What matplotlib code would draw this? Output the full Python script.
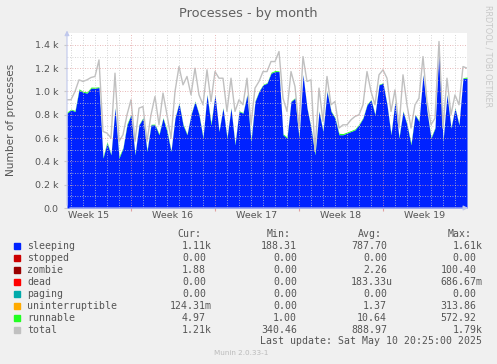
import numpy as np
import matplotlib.pyplot as plt

# 8-hour samples, one month (101 points)
sleeping = [814, 843, 829, 1014, 994, 986, 1029, 1029, 1034, 429,
            557, 457, 857, 429, 514, 714, 800, 457, 714, 771,
            486, 714, 714, 629, 771, 657, 486, 771, 900, 714,
            629, 800, 914, 800, 600, 971, 714, 971, 657, 857,
            600, 857, 543, 829, 814, 971, 571, 914, 1000, 1057,
            1071, 1157, 1171, 1171, 629, 600, 914, 943, 600, 1143,
            857, 686, 457, 829, 657, 1000, 829, 771, 629, 629,
            643, 657, 671, 714, 771, 886, 929, 800, 1057, 1071,
            886, 629, 914, 600, 829, 714, 543, 800, 743, 1143,
            829, 600, 686, 1371, 571, 971, 686, 857, 714, 1114,
            1114]
runnable = [10, 6, 8, 9, 8, 10, 9, 8, 6, 10,
            12, 6, 5, 14, 6, 10, 5, 8, 5, 6,
            10, 5, 6, 8, 5, 12, 6, 5, 4, 8,
            6, 5, 5, 6, 9, 5, 14, 4, 6, 5,
            8, 5, 10, 6, 5, 5, 16, 6, 5, 5,
            5, 8, 9, 6, 8, 10, 5, 5, 12, 4,
            5, 6, 14, 5, 8, 5, 6, 6, 12, 10,
            9, 8, 8, 7, 6, 5, 5, 6, 5, 4,
            5, 8, 5, 10, 5, 6, 12, 5, 6, 4,
            5, 8, 6, 3, 10, 5, 6, 5, 6, 5,
            10]
total = [929, 929, 1000, 1100, 1086, 1100, 1120, 1129, 1271, 657,
         643, 600, 1157, 571, 629, 800, 929, 571, 857, 871,
         571, 800, 957, 714, 986, 800, 600, 1000, 1214, 1057,
         1129, 971, 1200, 971, 886, 1186, 914, 1171, 1114, 1114,
         829, 1114, 829, 929, 886, 1114, 714, 1029, 1086, 1171,
         1171, 1257, 1257, 1343, 943, 829, 1171, 1043, 686, 1300,
         1086, 1100, 486, 1029, 743, 1129, 886, 914, 686, 714,
         714, 757, 786, 800, 886, 1171, 1000, 886, 1143, 1186,
         1114, 829, 1014, 686, 1143, 886, 686, 886, 943, 1300,
         914, 714, 771, 1429, 686, 1114, 800, 971, 886, 1214,
         1200]

week_labels = ["Week 15", "Week 16", "Week 17", "Week 18", "Week 19"]
week_starts = [5.333, 12.333, 19.333, 26.333]

legend_names = ["sleeping", "stopped", "zombie", "dead", "paging",
                "uninterruptible", "runnable", "total"]
legend_colors = ["#0022ff", "#cc0000", "#990000", "#ff0000", "#00aaaa",
                 "#ffaa00", "#22ff22", "#c0c0c0"]
cur_vals = ["1.11k", "0.00", "1.88", "0.00", "0.00", "124.31m", "4.97", "1.21k"]
min_vals = ["188.31", "0.00", "0.00", "0.00", "0.00", "0.00", "1.00", "340.46"]
avg_vals = ["787.70", "0.00", "2.26", "183.33u", "0.00", "1.37", "10.64", "888.97"]
max_vals = ["1.61k", "0.00", "100.40", "686.67m", "0.00", "313.86", "572.92", "1.79k"]

W, H = 497, 364
txt = "#555555"

fig = plt.figure(figsize=(W / 100, H / 100), dpi=100, facecolor="#f0f0f0")
ax = fig.add_axes([67 / W, (H - 208) / H, 400 / W, 175 / H])
ax.set_facecolor("white")

t = np.arange(len(sleeping)) / 3.0
sl = np.array(sleeping, float)
ru = np.array(runnable, float)
ax.fill_between(t, 0, sl, color="#0022ff", lw=0, zorder=2)
ax.fill_between(t, sl, sl + ru, color="#22ff22", lw=0, zorder=2)
ax.plot(t, total, color="#c0c0c0", lw=1, zorder=2)

ax.set_xlim(0, t[-1])
ax.set_ylim(0, 1502)

# grid on top of data, like rrdtool
for y in range(100, 1500, 100):
    c = "#e0a0a0" if y % 200 == 0 else "#c8c8c8"
    ax.axhline(y, color=c, lw=0.6, ls=(0, (1, 2)), zorder=3)
for d in np.arange(0.333, t[-1], 1.0):
    major = any(abs(d - w) < 0.01 for w in week_starts)
    ax.axvline(d, color="#e0a0a0" if major else "#c8c8c8", lw=0.6,
               ls=(0, (1, 2)), zorder=3)

for s in ax.spines.values():
    s.set_visible(False)

ax.set_yticks(range(0, 1500, 200))
ax.set_yticklabels(["0.0"] + ["%.1f k" % (v / 1000) for v in range(200, 1500, 200)])
ax.tick_params(axis="y", length=2, color="#c8c8c8", pad=4, labelsize=6.8,
               labelcolor=txt)
ax.set_xticks(week_starts)
ax.set_xticklabels([])
ax.tick_params(axis="x", which="major", length=2, color="#e0a0a0")
ax.set_xticks([w - 3.5 for w in week_starts] + [week_starts[-1] + 3.5], minor=True)
ax.set_xticklabels(week_labels, minor=True)
ax.tick_params(axis="x", which="minor", length=0, pad=2, labelsize=6.8,
               labelcolor=txt)

# axis arrows
ac = "#c0c8ec"
ax.annotate("", xy=(0, 1.03), xytext=(0, 0), xycoords="axes fraction",
            arrowprops=dict(arrowstyle="-|>", color=ac, lw=0.8,
                            mutation_scale=7), annotation_clip=False)
ax.annotate("", xy=(1.01, 0), xytext=(0, 0), xycoords="axes fraction",
            arrowprops=dict(arrowstyle="-|>", color=ac, lw=0.8,
                            mutation_scale=7), annotation_clip=False)

fig.text(248 / W, 1 - 13 / H, "Processes - by month", ha="center",
         va="center", fontsize=9.3, color="#606060")
fig.text(11 / W, 1 - 120 / H, "Number of processes", rotation=90,
         ha="center", va="center", fontsize=7.6, color=txt)
fig.text(488 / W, 1 - 5 / H, "RRDTOOL / TOBI OETIKER", rotation=270,
         ha="center", va="top", fontsize=5.8, color="#c8c8c8")

# legend table
mono = "DejaVu Sans Mono"
fs = 7.1
cw = 5.94


def fy(py):
    return 1 - py / H


def put_val(s, end_x, y):
    x = end_x if s[-1].isalpha() else end_x - cw
    fig.text(x / W, fy(y), s, ha="right", va="center", family=mono,
             fontsize=fs, color=txt)


for hx, h in zip([177, 267, 358, 448], ["Cur:", "Min:", "Avg:", "Max:"]):
    fig.text(hx / W, fy(234), h, ha="left", va="center", family=mono,
             fontsize=fs, color=txt)

for k, name in enumerate(legend_names):
    y = 245.7 + 12 * k
    fig.patches.append(plt.Rectangle((14 / W, fy(y + 3)), 6 / W, 6 / H,
                                     transform=fig.transFigure,
                                     color=legend_colors[k]))
    fig.text(27 / W, fy(y), name, ha="left", va="center", family=mono,
             fontsize=fs, color=txt)
    put_val(cur_vals[k], 212, y)
    put_val(min_vals[k], 303, y)
    put_val(avg_vals[k], 393, y)
    put_val(max_vals[k], 482.5, y)

fig.text(482.5 / W, fy(341), "Last update: Sat May 10 20:25:00 2025",
         ha="right", va="center", family=mono, fontsize=fs, color=txt)
fig.text(241 / W, fy(353), "Munin 2.0.33-1", ha="center", va="center",
         fontsize=5.2, color="#bbbbbb")

fig.savefig("out.png", dpi=100, facecolor=fig.get_facecolor())
